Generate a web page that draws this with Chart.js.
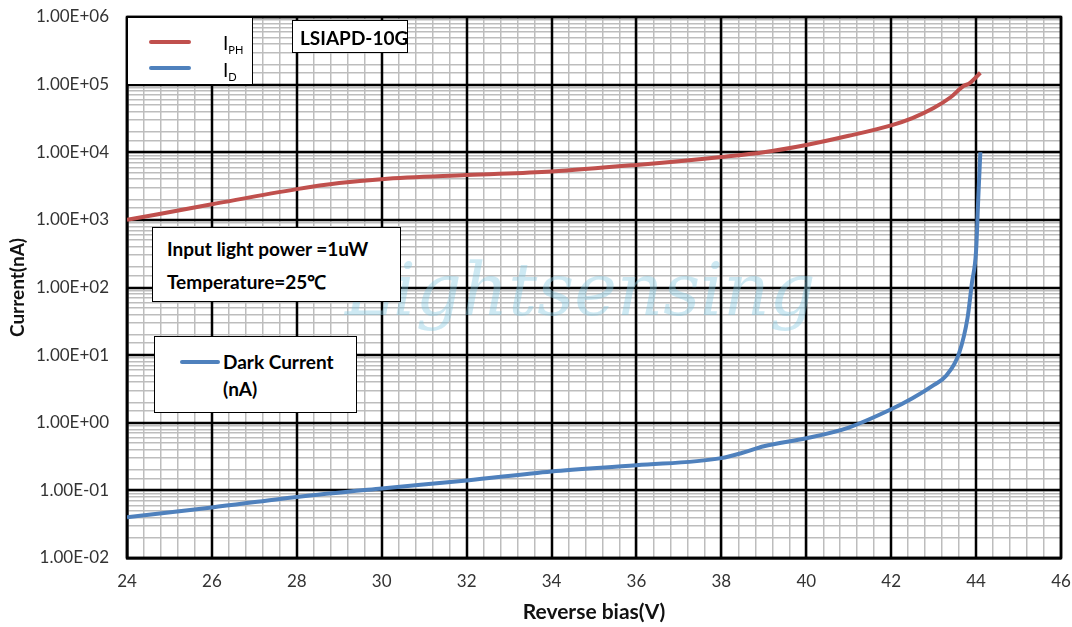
<!DOCTYPE html>
<html>
<head>
<meta charset="utf-8">
<script src="https://cdn.jsdelivr.net/npm/chart.js@4.4.0/dist/chart.umd.min.js"></script>
<style>
body { margin: 0; background: #fff; font-family: Lato, "Open Sans", sans-serif; }
#wrap { position: relative; width: 1072px; height: 627px; }
.box { position: absolute; background: #fff; border: 1.5px solid #000; box-sizing: border-box; font-weight: bold; color: #000; }
.ln { position: absolute; height: 4px; border-radius: 2px; }
.tx { position: absolute; font-size: 19px; white-space: nowrap; line-height: 1; }
sub { font-size: 11px; vertical-align: -4px; }
#wm { position: absolute; left: 345px; top: 248px; font-family: "DejaVu Serif", serif; font-style: italic; font-size: 72px; color: rgba(130,200,225,0.4); pointer-events: none; }
</style>
</head>
<body>
<div id="wrap">
<canvas id="graph" width="1072" height="627"></canvas>
<div id="wm">Lightsensing</div>
<div class="box" style="left:127px;top:17px;width:126px;height:68px;">
  <div class="ln" style="left:21px;top:22px;width:42px;background:#C0504D;"></div>
  <div class="tx" style="left:95px;top:15px;font-weight:normal;">I<sub>PH</sub></div>
  <div class="ln" style="left:21px;top:48px;width:42px;background:#4F81BD;"></div>
  <div class="tx" style="left:95px;top:42px;font-weight:normal;">I<sub>D</sub></div>
</div>
<div class="box" style="left:292px;top:20px;width:116px;height:33px;">
  <div class="tx" style="left:7px;top:7px;">LSIAPD-10G</div>
</div>
<div class="box" style="left:152px;top:227px;width:249px;height:75px;">
  <div class="tx" style="left:14px;top:11px;">Input light power =1uW</div>
  <div class="tx" style="left:14px;top:44px;">Temperature=25℃</div>
</div>
<div class="box" style="left:154px;top:336px;width:203px;height:77px;">
  <div class="ln" style="left:25px;top:23px;width:40px;background:#4F81BD;"></div>
  <div class="tx" style="left:68px;top:15px;">Dark Current</div>
  <div class="tx" style="left:68px;top:42px;">(nA)</div>
</div>
</div>
<script>
// reverse bias (V)
var biasPH = [24, 26, 28, 29, 30, 32, 34, 36, 38, 39, 40, 41, 42, 42.5, 43, 43.4, 43.7, 43.85, 44.1];
var currentPH = [1000, 1700, 2850, 3500, 4000, 4600, 5200, 6500, 8500, 10000, 12800, 17500, 25000, 32000, 45000, 65000, 95000, 105000, 150000];
var biasD = [24, 26, 28, 30, 32, 34, 36, 38, 38.5, 39, 40, 41, 42, 42.5, 43, 43.3, 43.6, 43.8, 43.9, 44.0, 44.05, 44.1];
var currentD = [0.04, 0.056, 0.08, 0.107, 0.14, 0.19, 0.235, 0.30, 0.36, 0.45, 0.59, 0.85, 1.58, 2.3, 3.6, 5.0, 10.7, 36, 115, 350, 2000, 10000];

function pts(xs, ys) {
    var out = [];
    for (var i = 0; i < xs.length; i++) out.push({x: xs[i], y: ys[i]});
    return out;
}

function isDecade(v) {
    var l = Math.log10(v);
    return Math.abs(l - Math.round(l)) < 1e-6;
}

function isEven(v) {
    return Math.abs(v / 2 - Math.round(v / 2)) < 1e-6;
}

function sci(v) {
    var e = Math.round(Math.log10(v));
    var s = e < 0 ? "-" : "+";
    return "1.00E" + s + ("0" + Math.abs(e)).slice(-2);
}

var font = "Lato";

new Chart(document.getElementById("graph").getContext("2d"), {
    type: "scatter",
    data: {
        datasets: [
            {
                data: pts(biasPH, currentPH),
                showLine: true,
                borderColor: "#C0504D",
                borderWidth: 4,
                pointRadius: 0,
                cubicInterpolationMode: "monotone"
            },
            {
                data: pts(biasD, currentD),
                showLine: true,
                borderColor: "#4F81BD",
                borderWidth: 4,
                pointRadius: 0,
                cubicInterpolationMode: "monotone"
            }
        ]
    },
    options: {
        responsive: false,
        animation: false,
        layout: { padding: { top: 17, right: 11, left: 0, bottom: 0 } },
        plugins: { legend: { display: false }, tooltip: { enabled: false } },
        scales: {
            x: {
                type: "linear",
                min: 24,
                max: 46,
                afterFit: function(scale) {
                    scale.height = 69;
                    scale.paddingLeft = 0;
                    scale.paddingRight = 0;
                },
                ticks: {
                    stepSize: 0.4,
                    autoSkip: false,
                    maxRotation: 0,
                    padding: 13,
                    color: "#333",
                    font: { family: font, size: 17 },
                    callback: function(v) { return isEven(v) ? Math.round(v) : ""; }
                },
                grid: { drawTicks: false, color: "#bdbdbd", lineWidth: 1.5 },
                border: { color: "#000", width: 2.5 },
                title: {
                    display: true,
                    text: "Reverse bias(V)",
                    color: "#111",
                    font: { family: font, size: 21, weight: "bold" },
                    padding: { top: 0, bottom: 2 }
                }
            },
            y: {
                type: "logarithmic",
                min: 0.01,
                max: 1000000,
                afterFit: function(scale) {
                    scale.width = 127;
                    scale.paddingTop = 0;
                    scale.paddingBottom = 0;
                },
                ticks: {
                    autoSkip: false,
                    padding: 18,
                    color: "#333",
                    font: { family: font, size: 17 },
                    callback: function(v) { return isDecade(v) ? sci(v) : ""; }
                },
                grid: { drawTicks: false, color: "#bdbdbd", lineWidth: 1.5 },
                border: { color: "#000", width: 2.5 },
                title: {
                    display: true,
                    text: "Current(nA)",
                    color: "#111",
                    font: { family: font, size: 19, weight: "bold" },
                    padding: { top: 6, bottom: 0 }
                }
            }
        }
    },
    plugins: [{
        // major grid lines and frame in black on top of the minor grid
        id: "majorGrid",
        beforeDatasetsDraw: function(c) {
            var a = c.chartArea, g = c.ctx;
            var xs = c.scales.x, ys = c.scales.y;
            g.save();
            g.strokeStyle = "#000";
            g.lineWidth = 2.5;
            xs.ticks.forEach(function(t) {
                if (!isEven(t.value)) return;
                var px = Math.round(xs.getPixelForValue(t.value));
                g.beginPath(); g.moveTo(px, a.top); g.lineTo(px, a.bottom); g.stroke();
            });
            ys.ticks.forEach(function(t) {
                if (!isDecade(t.value)) return;
                var py = Math.round(ys.getPixelForValue(t.value));
                g.beginPath(); g.moveTo(a.left, py); g.lineTo(a.right, py); g.stroke();
            });
            g.strokeRect(a.left, a.top, a.right - a.left, a.bottom - a.top);
            g.restore();
        }
    }]
});
</script>
</body>
</html>
